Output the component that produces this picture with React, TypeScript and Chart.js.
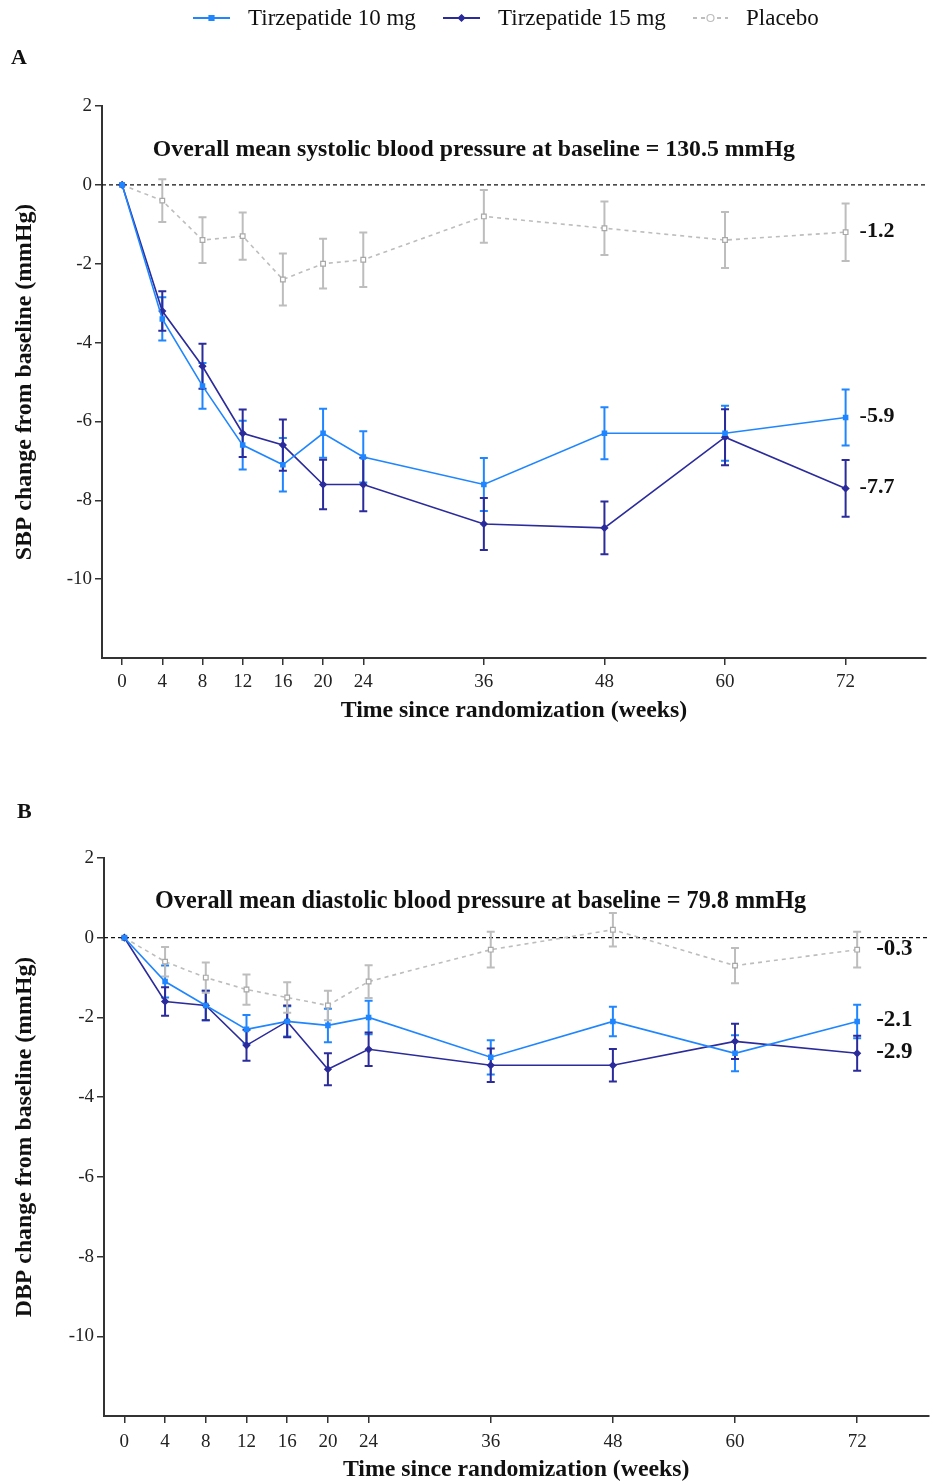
import React, { useEffect, useRef } from 'react';
import { Chart, registerables } from 'chart.js';

Chart.register(...registerables);

// ---------- data ----------
const weeks = [0, 4, 8, 12, 16, 20, 24, 36, 48, 60, 72];
const xTickValues = [0, 4, 8, 12, 16, 20, 24, 36, 48, 60, 72];
const yTickValues = [2, 0, -2, -4, -6, -8, -10];
const seriesNames = ['Tirzepatide 10 mg', 'Tirzepatide 15 mg', 'Placebo'];

// Panel A: SBP change from baseline (mmHg)
const sbpT10 = [0, -3.4, -5.1, -6.6, -7.1, -6.3, -6.9, -7.6, -6.3, -6.3, -5.9];
const sbpT10Err = [0, 0.55, 0.58, 0.62, 0.68, 0.62, 0.65, 0.67, 0.66, 0.7, 0.71];
const sbpT15 = [0, -3.2, -4.6, -6.3, -6.6, -7.6, -7.6, -8.6, -8.7, -6.4, -7.7];
const sbpT15Err = [0, 0.5, 0.57, 0.6, 0.65, 0.63, 0.68, 0.66, 0.67, 0.71, 0.72];
const sbpPbo = [0, -0.4, -1.4, -1.3, -2.4, -2.0, -1.9, -0.8, -1.1, -1.4, -1.2];
const sbpPboErr = [0, 0.54, 0.58, 0.6, 0.66, 0.63, 0.69, 0.67, 0.68, 0.71, 0.73];

// Panel B: DBP change from baseline (mmHg)
const dbpT10 = [0, -1.1, -1.7, -2.3, -2.1, -2.2, -2.0, -3.0, -2.1, -2.9, -2.1];
const dbpT10Err = [0, 0.4, 0.37, 0.36, 0.38, 0.42, 0.42, 0.43, 0.37, 0.45, 0.42];
const dbpT15 = [0, -1.6, -1.7, -2.7, -2.1, -3.3, -2.8, -3.2, -3.2, -2.6, -2.9];
const dbpT15Err = [0, 0.36, 0.37, 0.39, 0.4, 0.4, 0.42, 0.42, 0.41, 0.44, 0.44];
const dbpPbo = [0, -0.6, -1.0, -1.3, -1.5, -1.7, -1.1, -0.3, 0.2, -0.7, -0.3];
const dbpPboErr = [0, 0.37, 0.38, 0.38, 0.38, 0.37, 0.41, 0.45, 0.42, 0.44, 0.45];

const annotA = 'Overall mean systolic blood pressure at baseline = 130.5 mmHg';
const annotB = 'Overall mean diastolic blood pressure at baseline = 79.8 mmHg';
const yTitleA = 'SBP change from baseline (mmHg)';
const yTitleB = 'DBP change from baseline (mmHg)';
const xTitle = 'Time since randomization (weeks)';

// ---------- styles ----------
const SERIF = '"Liberation Serif", "Times New Roman", Times, serif';
const C_T10 = '#1f86ff';
const C_T15 = '#2b2b9c';
const C_PBO = '#bdbdbd';
const AXIS = '#333333';
const TEXT = '#111111';

type PanelCfg = {
  t10: number[]; t10e: number[];
  t15: number[]; t15e: number[];
  pbo: number[]; pboe: number[];
  yTitle: string; annot: string; letter: string;
  letterX: number; letterY: number;
  padTop: number; padRight: number;
  yWidth: number; xHeight: number;
  xMax: number; xTickPad: number; xTitlePadBottom: number;
  endDx: number; endSize: number; annotSize: number; legend: boolean;
};

function drawMarker(ctx: CanvasRenderingContext2D, style: string, x: number, y: number, r: number, fill: string, stroke: string) {
  ctx.save();
  ctx.fillStyle = fill;
  ctx.strokeStyle = stroke;
  ctx.lineWidth = 1.2;
  ctx.setLineDash([]);
  ctx.beginPath();
  if (style === 'rect') {
    ctx.rect(x - r, y - r, 2 * r, 2 * r);
  } else if (style === 'rectRot') {
    ctx.moveTo(x, y - r * 1.3);
    ctx.lineTo(x + r * 1.3, y);
    ctx.lineTo(x, y + r * 1.3);
    ctx.lineTo(x - r * 1.3, y);
    ctx.closePath();
  } else {
    ctx.arc(x, y, r, 0, Math.PI * 2);
  }
  ctx.fill();
  ctx.stroke();
  ctx.restore();
}

const decoPlugin = {
  id: 'deco',
  beforeDatasetsDraw(chart: any) {
    const { ctx, chartArea, scales } = chart;
    const xs = scales.x;
    const ys = scales.y;
    // zero reference line
    ctx.save();
    ctx.strokeStyle = '#111';
    ctx.lineWidth = 1.3;
    ctx.setLineDash([4, 3]);
    const y0 = ys.getPixelForValue(0);
    ctx.beginPath();
    ctx.moveTo(chartArea.left, y0);
    ctx.lineTo(chartArea.right, y0);
    ctx.stroke();
    ctx.restore();
    // error bars
    chart.data.datasets.forEach((ds: any) => {
      const errs: number[] = ds.errors || [];
      ctx.save();
      ctx.strokeStyle = ds.errorColor || ds.borderColor;
      ctx.lineWidth = 2;
      ctx.setLineDash([]);
      ds.data.forEach((p: any, i: number) => {
        const e = errs[i];
        if (!e) return;
        const px = xs.getPixelForValue(p.x);
        const top = ys.getPixelForValue(p.y + e);
        const bot = ys.getPixelForValue(p.y - e);
        ctx.beginPath();
        ctx.moveTo(px, top);
        ctx.lineTo(px, bot);
        ctx.moveTo(px - 4, top);
        ctx.lineTo(px + 4, top);
        ctx.moveTo(px - 4, bot);
        ctx.lineTo(px + 4, bot);
        ctx.stroke();
      });
      ctx.restore();
    });
  },
  afterDraw(chart: any, _args: any, opts: any) {
    const { ctx, scales } = chart;
    const xs = scales.x;
    const ys = scales.y;
    ctx.save();
    // panel letter
    ctx.fillStyle = TEXT;
    ctx.font = `bold 22px ${SERIF}`;
    ctx.textAlign = 'left';
    ctx.textBaseline = 'middle';
    ctx.fillText(opts.letter, opts.letterX, opts.letterY);
    // baseline annotation
    ctx.font = `bold ${opts.annotSize}px ${SERIF}`;
    ctx.textAlign = 'center';
    ctx.fillText(opts.annot, xs.getPixelForValue(35), ys.getPixelForValue(0.9));
    // end labels
    ctx.font = `bold ${opts.endSize}px ${SERIF}`;
    ctx.textAlign = 'left';
    chart.data.datasets.forEach((ds: any) => {
      const last = ds.data[ds.data.length - 1];
      ctx.fillText(last.y.toFixed(1), xs.getPixelForValue(last.x) + opts.endDx, ys.getPixelForValue(last.y) - 1);
    });
    // legend
    if (opts.legend) {
      const items = [
        { x1: 193, x2: 230, tx: 248, color: C_T10, style: 'rect', dash: [] as number[], fill: C_T10 },
        { x1: 443, x2: 480, tx: 498, color: C_T15, style: 'rectRot', dash: [] as number[], fill: C_T15 },
        { x1: 693, x2: 728, tx: 746, color: C_PBO, style: 'circle', dash: [4, 4], fill: '#ffffff' },
      ];
      const ly = 18;
      ctx.font = `23px ${SERIF}`;
      ctx.textBaseline = 'middle';
      items.forEach((it, i) => {
        ctx.save();
        ctx.strokeStyle = it.color;
        ctx.lineWidth = 1.8;
        ctx.setLineDash(it.dash);
        ctx.beginPath();
        ctx.moveTo(it.x1, ly);
        ctx.lineTo(it.x2, ly);
        ctx.stroke();
        ctx.restore();
        drawMarker(ctx, it.style, (it.x1 + it.x2) / 2, ly, it.style === 'circle' ? 3.5 : 2.5, it.fill, it.color);
        ctx.fillStyle = TEXT;
        ctx.fillText(seriesNames[i], it.tx, ly + 1);
      });
    }
    ctx.restore();
  },
};

function buildConfig(p: PanelCfg): any {
  const toPts = (vals: number[]) => weeks.map((w, i) => ({ x: w, y: vals[i] }));
  const tickFont = { family: SERIF, size: 19 };
  const titleFont = { family: SERIF, size: 23.8, weight: 'bold' as const };
  return {
    type: 'line',
    data: {
      datasets: [
        {
          label: seriesNames[0], data: toPts(p.t10), errors: p.t10e,
          borderColor: C_T10, backgroundColor: C_T10, borderWidth: 1.6,
          pointStyle: 'rect', pointRadius: 2.8, pointBackgroundColor: C_T10, pointBorderColor: C_T10,
        },
        {
          label: seriesNames[1], data: toPts(p.t15), errors: p.t15e,
          borderColor: C_T15, backgroundColor: C_T15, borderWidth: 1.6,
          pointStyle: 'rectRot', pointRadius: 3, pointBackgroundColor: C_T15, pointBorderColor: C_T15,
        },
        {
          label: seriesNames[2], data: toPts(p.pbo), errors: p.pboe,
          borderColor: C_PBO, backgroundColor: '#ffffff', borderWidth: 1.6, borderDash: [4, 4],
          pointStyle: 'rect', pointRadius: 3.3, pointBackgroundColor: '#ffffff', pointBorderColor: '#a8a8a8',
          pointBorderWidth: 1.2, errorColor: C_PBO,
        },
      ],
    },
    options: {
      responsive: false,
      animation: false,
      devicePixelRatio: 1,
      layout: { padding: { top: p.padTop, right: p.padRight, left: 0, bottom: 0 } },
      plugins: {
        legend: { display: false },
        tooltip: { enabled: false },
        deco: {
          letter: p.letter, letterX: p.letterX, letterY: p.letterY, annot: p.annot,
          endDx: p.endDx, endSize: p.endSize, annotSize: p.annotSize, legend: p.legend,
        },
      },
      scales: {
        x: {
          type: 'linear', min: -2, max: p.xMax,
          afterBuildTicks: (s: any) => { s.ticks = xTickValues.map((v) => ({ value: v })); },
          afterFit: (s: any) => { s.height = p.xHeight; },
          grid: { drawOnChartArea: false, drawTicks: true, tickLength: 7, color: AXIS, lineWidth: 1.5 },
          border: { display: true, color: AXIS, width: 2 },
          ticks: { font: tickFont, color: '#222', padding: p.xTickPad, maxRotation: 0, autoSkip: false, callback: (v: any) => String(v) },
          title: { display: true, text: xTitle, font: titleFont, color: TEXT, padding: { top: 0, bottom: p.xTitlePadBottom } },
        },
        y: {
          type: 'linear', min: -12, max: 2,
          afterBuildTicks: (s: any) => { s.ticks = yTickValues.map((v) => ({ value: v })); },
          afterFit: (s: any) => { s.width = p.yWidth; },
          grid: { drawOnChartArea: false, drawTicks: true, tickLength: 7, color: AXIS, lineWidth: 1.5 },
          border: { display: true, color: AXIS, width: 2 },
          ticks: { font: tickFont, color: '#222', padding: 3, autoSkip: false, callback: (v: any) => String(v) },
          title: { display: true, text: p.yTitle, font: titleFont, color: TEXT, padding: { top: 11, bottom: 0 } },
        },
      },
    },
    plugins: [decoPlugin],
  };
}

const panelA: PanelCfg = {
  t10: sbpT10, t10e: sbpT10Err, t15: sbpT15, t15e: sbpT15Err, pbo: sbpPbo, pboe: sbpPboErr,
  yTitle: yTitleA, annot: annotA, letter: 'A', letterX: 11, letterY: 58,
  padTop: 106, padRight: 8, yWidth: 102, xHeight: 84, xMax: 80, xTickPad: 6, xTitlePadBottom: 17,
  endDx: 14, endSize: 22, annotSize: 23.8, legend: true,
};

const panelB: PanelCfg = {
  t10: dbpT10, t10e: dbpT10Err, t15: dbpT15, t15e: dbpT15Err, pbo: dbpPbo, pboe: dbpPboErr,
  yTitle: yTitleB, annot: annotB, letter: 'B', letterX: 17, letterY: 70,
  padTop: 116, padRight: 1, yWidth: 104, xHeight: 68, xMax: 79, xTickPad: 8, xTitlePadBottom: 0,
  endDx: 19, endSize: 23, annotSize: 24.2, legend: false,
};

function Panel({ cfg }: { cfg: PanelCfg }) {
  const ref = useRef<HTMLCanvasElement | null>(null);
  useEffect(() => {
    if (!ref.current) return;
    const chart = new Chart(ref.current, buildConfig(cfg));
    return () => chart.destroy();
  }, [cfg]);
  return <canvas ref={ref} width={934} height={742} style={{ display: 'block', width: 934, height: 742 }} />;
}

export default function App() {
  return (
    <div style={{ position: 'absolute', left: 0, top: 0, width: 934, height: 1484, background: '#fff' }}>
      <Panel cfg={panelA} />
      <Panel cfg={panelB} />
    </div>
  );
}
